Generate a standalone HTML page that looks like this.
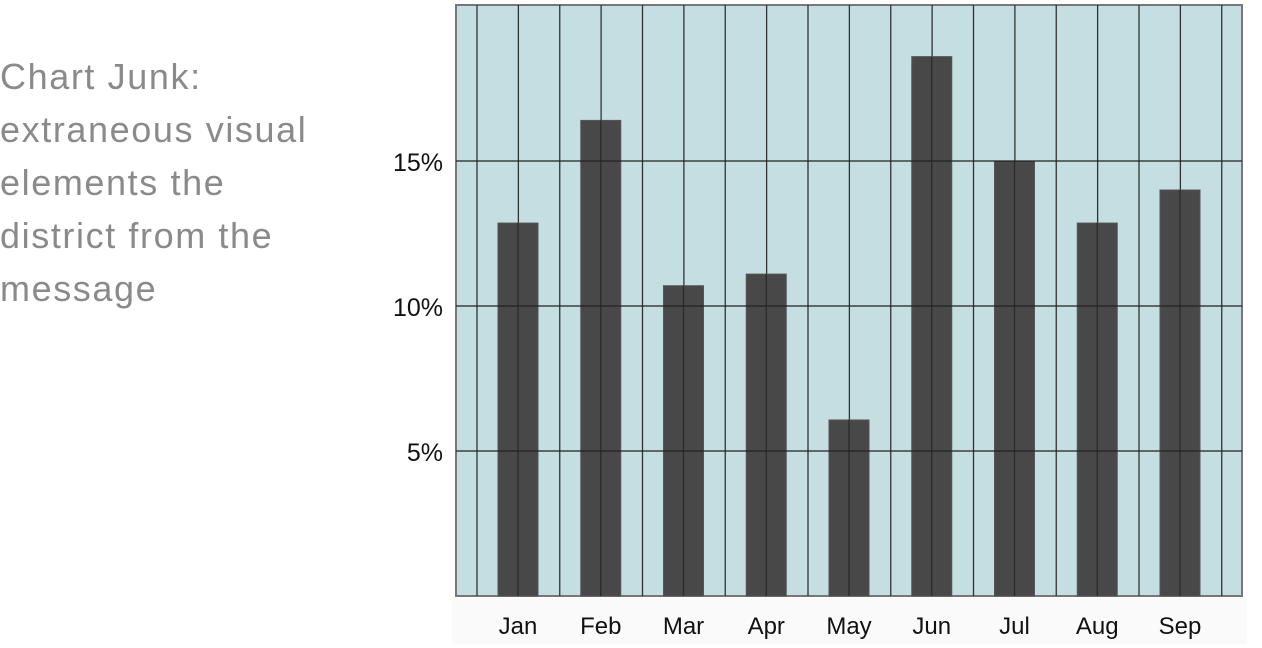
<!DOCTYPE html>
<html><head><meta charset="utf-8"><style>
body{margin:0;width:1262px;height:648px;background:#fff;overflow:hidden;position:relative;font-family:"Liberation Sans",sans-serif}
#caption{position:absolute;left:0;top:50px;color:#8a8a8a;font-size:36px;line-height:53px;letter-spacing:1.6px;white-space:nowrap}
svg{position:absolute;left:0;top:0}
</style></head><body>
<div id="caption">Chart Junk:<br>extraneous visual<br>elements the<br>district from the<br>message</div>
<svg width="1262" height="648">
<rect x="452" y="598" width="795" height="46" fill="#fafafa"/>
<rect x="456" y="5" width="786" height="591" fill="#c4dee1" stroke="#777" stroke-width="2"/>
<g id="vgrid"></g><g id="bars"></g><g id="hgrid"></g><g id="labels"></g>
</svg>
<script>
const categories=["Jan","Feb","Mar","Apr","May","Jun","Jul","Aug","Sep"];
const values=[12.86,16.4,10.7,11.1,6.07,18.6,15.0,12.86,14.0];
const yTicks=[5,10,15];
const yTickLabels=["5%","10%","15%"];
const NS="http://www.w3.org/2000/svg";
const y=v=>596-v*29;
const x=i=>518+i*82.75;
function mk(t,a,p){const e=document.createElementNS(NS,t);for(const k in a)e.setAttribute(k,a[k]);p.appendChild(e);return e;}
const vg=document.getElementById('vgrid'),bg=document.getElementById('bars'),hg=document.getElementById('hgrid'),lg=document.getElementById('labels');
for(let k=0;k<19;k++){const xx=477+k*41.375;
const l=mk('line',{x1:xx,x2:xx,y1:5,y2:596,stroke:'#333','stroke-width':1.3},vg);

}
categories.forEach((c,i)=>{
const r=mk('rect',{x:x(i)-20,y:y(values[i]),width:40,height:596-y(values[i]),fill:'#484848',stroke:'#555','stroke-width':1},bg);


const cl=mk('line',{x1:x(i),x2:x(i),y1:y(values[i]),y2:596,stroke:'#2a2a2a','stroke-width':1.3},bg);


const t=mk('text',{x:x(i),y:634,'text-anchor':'middle','font-size':24,fill:'#111'},lg);t.textContent=c;


});
yTicks.forEach((v,i)=>{
const l=mk('line',{x1:456,x2:1242,y1:y(v),y2:y(v),stroke:'#222','stroke-width':1.3},hg);


const t=mk('text',{x:443,y:y(v)+10,'text-anchor':'end','font-size':25,fill:'#111'},lg);t.textContent=yTickLabels[i];


});
</script>
</body></html>
